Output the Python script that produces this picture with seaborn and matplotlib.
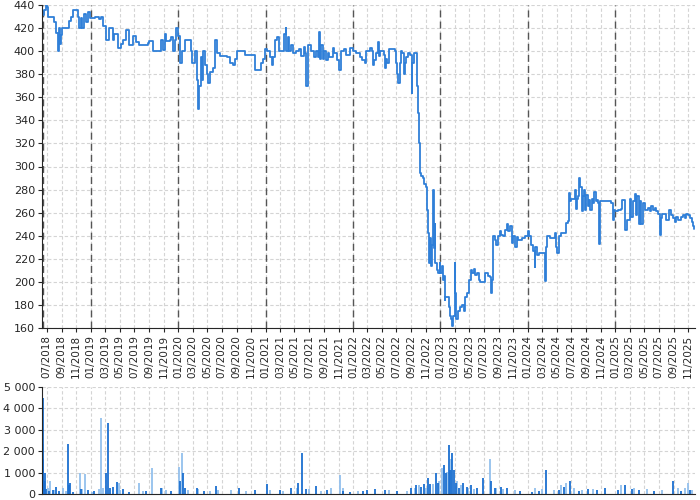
import pandas as pd
import matplotlib
matplotlib.use("Agg")
import matplotlib.pyplot as plt
import matplotlib.dates as mdates
from matplotlib.ticker import FuncFormatter, MultipleLocator
import seaborn as sns

# =========================================
# DATA — price series
# =========================================
price_dates = [
    "2018-06-11", "2018-06-13", "2018-06-20", "2018-06-27", "2018-07-02", "2018-07-05", "2018-07-26",
    "2018-08-02", "2018-08-09", "2018-08-16", "2018-08-19", "2018-08-24", "2018-08-29", "2018-09-04",
    "2018-09-27", "2018-10-03", "2018-10-10", "2018-10-20", "2018-11-02", "2018-11-07", "2018-11-14",
    "2018-11-19", "2018-11-25", "2018-12-03", "2018-12-12", "2018-12-20", "2018-12-28",
    "2019-01-20", "2019-02-06", "2019-02-12", "2019-02-22", "2019-03-05", "2019-03-19", "2019-04-02",
    "2019-04-09", "2019-04-23", "2019-05-07", "2019-05-17", "2019-05-28", "2019-06-11", "2019-06-25",
    "2019-07-09", "2019-07-23", "2019-08-20", "2019-08-27", "2019-09-03", "2019-09-17", "2019-10-15",
    "2019-10-22", "2019-10-29", "2019-11-05", "2019-11-12", "2019-11-26", "2019-12-03", "2019-12-10",
    "2019-12-17", "2019-12-24",
    "2020-01-02", "2020-01-08", "2020-01-15", "2020-01-29", "2020-02-12", "2020-02-22", "2020-02-26",
    "2020-03-04", "2020-03-11", "2020-03-18", "2020-03-24", "2020-03-29", "2020-04-04", "2020-04-09",
    "2020-04-15", "2020-04-22", "2020-04-29", "2020-05-06", "2020-05-13", "2020-05-27", "2020-06-03",
    "2020-06-10", "2020-06-24", "2020-07-22", "2020-08-05", "2020-08-19", "2020-08-26", "2020-09-02",
    "2020-09-30", "2020-10-07", "2020-11-12", "2020-11-15", "2020-12-14", "2020-12-22", "2020-12-28",
    "2021-01-08", "2021-01-19", "2021-01-25", "2021-02-02", "2021-02-08", "2021-02-16", "2021-02-26",
    "2021-03-12", "2021-03-19", "2021-03-25", "2021-03-27", "2021-04-02", "2021-04-09", "2021-04-16",
    "2021-04-23", "2021-05-07", "2021-05-21", "2021-05-28", "2021-06-08", "2021-06-15", "2021-06-18",
    "2021-06-25", "2021-07-09", "2021-07-23", "2021-07-30", "2021-08-06", "2021-08-12", "2021-08-16",
    "2021-08-20", "2021-08-27", "2021-09-03", "2021-09-10", "2021-09-17", "2021-09-24", "2021-10-08",
    "2021-10-15", "2021-10-26", "2021-11-05", "2021-11-12", "2021-11-23", "2021-12-03", "2021-12-17",
    "2021-12-31",
    "2022-01-14", "2022-01-28", "2022-02-07", "2022-02-18", "2022-02-25", "2022-03-12", "2022-03-22",
    "2022-03-25", "2022-03-29", "2022-04-05", "2022-04-16", "2022-04-19", "2022-04-22", "2022-05-03",
    "2022-05-10", "2022-05-14", "2022-05-20", "2022-05-24", "2022-05-31", "2022-06-14", "2022-06-25",
    "2022-07-01", "2022-07-05", "2022-07-09", "2022-07-15", "2022-07-19", "2022-07-26", "2022-07-31",
    "2022-08-06", "2022-08-12", "2022-08-20", "2022-08-28", "2022-09-02", "2022-09-06", "2022-09-13",
    "2022-09-23", "2022-09-27", "2022-10-01", "2022-10-04", "2022-10-08", "2022-10-11", "2022-10-18",
    "2022-10-25", "2022-11-01", "2022-11-05", "2022-11-11", "2022-11-15", "2022-11-19", "2022-11-22",
    "2022-11-26", "2022-11-30", "2022-12-03", "2022-12-09", "2022-12-11", "2022-12-17", "2022-12-23",
    "2022-12-28",
    "2023-01-01", "2023-01-07", "2023-01-11", "2023-01-15", "2023-01-18", "2023-01-22", "2023-01-29",
    "2023-02-04", "2023-02-08", "2023-02-12", "2023-02-18", "2023-02-22", "2023-03-01", "2023-03-04",
    "2023-03-08", "2023-03-15", "2023-03-22", "2023-04-01", "2023-04-09", "2023-04-15", "2023-04-23",
    "2023-04-29", "2023-05-07", "2023-05-13", "2023-05-21", "2023-05-27", "2023-06-04", "2023-06-10",
    "2023-06-15", "2023-06-28", "2023-07-08", "2023-07-19", "2023-07-26", "2023-08-02", "2023-08-05",
    "2023-08-10", "2023-08-16", "2023-08-23", "2023-08-30", "2023-09-06", "2023-09-13", "2023-09-20",
    "2023-09-27", "2023-10-04", "2023-10-11", "2023-10-18", "2023-10-25", "2023-11-01", "2023-11-08",
    "2023-11-15", "2023-11-22", "2023-12-06", "2023-12-20",
    "2024-01-01", "2024-01-08", "2024-01-15", "2024-01-22", "2024-01-29", "2024-02-02", "2024-02-09",
    "2024-02-15", "2024-03-08", "2024-03-11", "2024-03-15", "2024-03-22", "2024-04-01", "2024-04-15",
    "2024-04-22", "2024-04-29", "2024-05-03", "2024-05-09", "2024-05-20", "2024-06-03", "2024-06-10",
    "2024-06-17", "2024-06-21", "2024-06-25", "2024-07-01", "2024-07-08", "2024-07-15", "2024-07-19",
    "2024-07-23", "2024-07-29", "2024-08-03", "2024-08-07", "2024-08-13", "2024-08-17", "2024-08-24",
    "2024-08-27", "2024-09-01", "2024-09-07", "2024-09-14", "2024-09-18", "2024-09-24", "2024-09-29",
    "2024-10-05", "2024-10-10", "2024-10-16", "2024-10-22", "2024-10-26", "2024-10-30", "2024-11-30",
    "2024-12-14", "2024-12-21", "2024-12-28",
    "2025-01-01", "2025-01-11", "2025-01-25", "2025-01-29", "2025-02-08", "2025-02-12", "2025-02-18",
    "2025-02-25", "2025-03-02", "2025-03-08", "2025-03-15", "2025-03-22", "2025-03-29", "2025-04-02",
    "2025-04-08", "2025-04-13", "2025-04-19", "2025-04-26", "2025-05-03", "2025-05-17", "2025-05-24",
    "2025-05-31", "2025-06-07", "2025-06-14", "2025-06-21", "2025-06-28", "2025-07-05", "2025-07-09",
    "2025-07-15", "2025-07-26", "2025-08-02", "2025-08-12", "2025-08-20", "2025-08-30", "2025-09-06",
    "2025-09-13", "2025-09-20", "2025-10-04", "2025-10-11", "2025-10-18", "2025-10-25", "2025-11-01",
    "2025-11-08", "2025-11-15", "2025-11-22", "2025-11-26",
]
prices = [
    400, 431, 436, 440, 438, 430, 430,
    425, 416, 400, 420, 406, 414, 420,
    420, 426, 430, 436, 436, 430, 420,
    429, 420, 432, 425, 434, 429,
    430, 428, 430, 422, 410, 420, 410,
    415, 403, 406, 410, 418, 405, 413,
    408, 405, 405, 407, 409, 400, 400,
    410, 401, 415, 409, 410, 412, 400,
    410, 420,
    413, 390, 400, 410, 410, 400, 390,
    390, 400, 375, 350, 370, 395, 375,
    400, 388, 380, 372, 382, 385, 410,
    398, 396, 395, 390, 388, 393, 400,
    400, 397, 397, 384, 390, 393, 402,
    400, 395, 388, 395, 410, 412, 400,
    400, 415, 420, 400, 412, 400, 405,
    398, 400, 402, 396, 404, 398, 370,
    405, 400, 395, 400, 395, 417, 393,
    405, 393, 400, 392, 398, 395, 403,
    398, 392, 384, 400, 402, 397, 403,
    400,
    398, 395, 392, 390, 400, 403, 400,
    388, 392, 398, 408, 396, 400, 400,
    397, 385, 393, 390, 402, 402, 400,
    390, 380, 372, 390, 400, 398, 380,
    390, 395, 398, 397, 364, 390, 398,
    398, 370, 346, 320, 294, 292, 290,
    285, 282, 262, 242, 216, 238, 214,
    232, 280, 229, 250, 216, 210, 208,
    216,
    208, 214, 202, 205, 184, 187, 187,
    178, 170, 168, 162, 170, 216, 190,
    168, 175, 178, 180, 175, 187, 190,
    202, 210, 208, 211, 206, 208, 202,
    200, 200, 208, 205, 204, 190, 202,
    240, 236, 232, 240, 244, 241, 240,
    245, 250, 244, 248, 234, 240, 230,
    239, 236, 238, 240,
    244, 240, 232, 227, 213, 230, 223,
    225, 225, 201, 230, 240, 238, 238,
    242, 230, 225, 240, 242, 242, 251,
    253, 277, 270, 272, 272, 280, 263,
    272, 274, 290, 282, 261, 274, 280,
    262, 275, 266, 271, 262, 272, 268,
    278, 270, 271, 268, 233, 270, 270,
    268, 254, 262,
    261, 262, 263, 271, 270, 245, 254,
    254, 272, 256, 270, 276, 258, 274,
    250, 270, 250, 268, 262, 264, 261,
    266, 262, 264, 261, 259, 241, 255,
    259, 259, 254, 262, 258, 255, 252,
    256, 254, 256, 258, 255, 259, 258,
    255, 252, 248, 246,
]

# volume bars — darker (strong) and lighter (faded) bars
vol_dark_dates = [
    "2018-06-14", "2018-06-16", "2018-06-19", "2018-06-22", "2018-06-28", "2018-07-10", "2018-07-25",
    "2018-08-08", "2018-08-20", "2018-09-28", "2018-10-03", "2018-10-08", "2018-10-20", "2018-11-20",
    "2018-12-20", "2019-01-15", "2019-03-04", "2019-03-14", "2019-03-22", "2019-04-05", "2019-04-20",
    "2019-05-15", "2019-06-10", "2019-08-20", "2019-10-20", "2019-12-01", "2020-01-07", "2020-01-21",
    "2020-01-28", "2020-03-18", "2020-04-20", "2020-06-09", "2020-09-12", "2020-11-15", "2021-01-07",
    "2021-03-01", "2021-04-15", "2021-05-17", "2021-05-31", "2021-06-20", "2021-08-01", "2021-09-15",
    "2021-11-20", "2021-12-20", "2022-02-10", "2022-03-01", "2022-04-01", "2022-05-15", "2022-07-05",
    "2022-09-01", "2022-09-21", "2022-10-10", "2022-10-25", "2022-11-10", "2022-11-20", "2022-12-13",
    "2022-12-20", "2023-01-14", "2023-01-24", "2023-02-06", "2023-02-10", "2023-02-20", "2023-02-28",
    "2023-03-05", "2023-03-20", "2023-04-05", "2023-04-20", "2023-05-10", "2023-06-01", "2023-06-28",
    "2023-07-30", "2023-08-15", "2023-09-10", "2023-10-05", "2023-12-01", "2024-01-20", "2024-02-15",
    "2024-03-18", "2024-05-10", "2024-06-01", "2024-06-26", "2024-08-01", "2024-09-10", "2024-10-15",
    "2024-11-20", "2025-01-10", "2025-02-10", "2025-03-10", "2025-04-10", "2025-06-10", "2025-08-31",
    "2025-10-01", "2025-11-10",
]
vol_dark = [
    4480, 1620, 600, 1000, 250, 150, 200,
    350, 150, 2350, 400, 500, 100, 250,
    200, 150, 1000, 3300, 280, 320, 560,
    230, 100, 150, 270, 150, 600, 1000,
    300, 270, 150, 380, 300, 200, 480,
    200, 300, 500, 1920, 250, 380, 200,
    150, 100, 150, 200, 250, 200, 150,
    300, 400, 350, 450, 750, 450, 1000,
    500, 1350, 1000, 2300, 1100, 1900, 1100,
    500, 300, 500, 350, 400, 300, 750,
    600, 300, 350, 300, 150, 100, 150,
    1100, 200, 350, 600, 150, 250, 200,
    300, 200, 400, 250, 200, 150, 600,
    150, 200,
]
vol_light_dates = [
    "2018-06-15", "2018-06-25", "2018-07-05", "2018-07-15", "2018-08-01", "2018-09-05", "2018-09-20",
    "2018-11-16", "2018-11-25", "2018-12-07", "2019-01-05", "2019-02-05", "2019-02-12", "2019-02-20",
    "2019-04-28", "2019-05-05", "2019-07-22", "2019-08-05", "2019-09-13", "2019-10-25", "2019-11-10",
    "2020-01-05", "2020-01-17", "2020-02-10", "2020-03-25", "2020-05-15", "2020-06-15", "2020-08-10",
    "2020-10-10", "2021-01-20", "2021-03-15", "2021-05-10", "2021-07-01", "2021-08-20", "2021-10-01",
    "2021-11-08", "2021-11-20", "2022-01-20", "2022-06-01", "2022-08-15", "2022-09-15", "2022-10-05",
    "2022-11-01", "2022-12-01", "2022-12-25", "2023-01-08", "2023-01-30", "2023-02-14", "2023-03-10",
    "2023-03-28", "2023-04-28", "2023-05-20", "2023-07-25", "2023-08-20", "2023-09-20", "2023-11-10",
    "2024-02-01", "2024-03-01", "2024-04-20", "2024-05-20", "2024-06-10", "2024-07-10", "2024-08-15",
    "2024-10-01", "2025-01-25", "2025-03-20", "2025-05-15", "2025-07-15", "2025-09-20", "2025-10-20",
    "2025-11-01", "2025-11-15",
]
vol_light = [
    2350, 600, 300, 600, 200, 300, 150,
    980, 250, 930, 100, 250, 3560, 300,
    500, 200, 500, 150, 1230, 270, 200,
    1250, 1900, 200, 250, 150, 200, 200,
    150, 200, 150, 300, 250, 150, 300,
    900, 300, 150, 200, 150, 300, 400,
    300, 450, 600, 1200, 1050, 1650, 600,
    400, 300, 250, 1650, 300, 250, 200,
    300, 250, 200, 400, 500, 300, 200,
    250, 400, 300, 250, 200, 300, 300,
    530, 200,
]

# vertical markers (data start + every new year)
marker_dates = ["2018-06-17", "2019-01-01", "2020-01-01", "2021-01-01", "2022-01-01",
                "2023-01-01", "2024-01-01", "2025-01-01"]

price_df = pd.DataFrame({"date": pd.to_datetime(price_dates), "price": prices})

# =========================================
# FIGURE
# =========================================
sns.set_style("ticks")
plt.rcParams["font.family"] = ["DejaVu Sans"]

fig = plt.figure(figsize=(7, 5), dpi=100)
ax1 = fig.add_axes([0.06, 0.344, 0.933, 0.646])
ax2 = fig.add_axes([0.06, 0.012, 0.933, 0.214], sharex=ax1)

grid_kw = dict(color="#d4d4d4", linestyle=(0, (3, 2)), linewidth=0.8)

# price line
sns.lineplot(data=price_df, x="date", y="price", ax=ax1, color="#2f7fd8",
             linewidth=1.3, drawstyle="steps-post", estimator=None)
for d in marker_dates:
    ax1.axvline(pd.Timestamp(d), color="#555555", linestyle=(0, (5, 3)), linewidth=1, zorder=1)

ax1.set_ylim(160, 440)
ax1.yaxis.set_major_locator(MultipleLocator(20))
ax1.set_xlim(price_df["date"].min(), price_df["date"].max() + pd.Timedelta(days=4))
ax1.xaxis.set_major_locator(mdates.MonthLocator(bymonth=[1, 3, 5, 7, 9, 11]))
ax1.xaxis.set_major_formatter(mdates.DateFormatter("%m/%Y"))
ax1.grid(True, **grid_kw)
ax1.set_axisbelow(True)
ax1.set_xlabel("")
ax1.set_ylabel("")
ax1.tick_params(axis="x", labelrotation=90, labelsize=7.5, length=3, pad=2)
ax1.tick_params(axis="y", labelsize=8, length=3, pad=2)
sns.despine(ax=ax1)

# volume bars
ax2.vlines(pd.to_datetime(vol_light_dates), 0, vol_light, color="#93c0ed", linewidth=1.3)
ax2.vlines(pd.to_datetime(vol_dark_dates), 0, vol_dark, color="#1b6fd0", linewidth=1.3)
ax2.set_ylim(0, 5000)
ax2.yaxis.set_major_locator(MultipleLocator(1000))
ax2.yaxis.set_major_formatter(FuncFormatter(lambda v, p: f"{int(v):,}".replace(",", " ")))
ax2.grid(True, **grid_kw)
ax2.set_axisbelow(True)
ax2.tick_params(axis="x", labelbottom=False, length=0)
ax2.tick_params(axis="y", labelsize=8, length=3, pad=2)
sns.despine(ax=ax2)

fig.savefig("out.png", dpi=100)
